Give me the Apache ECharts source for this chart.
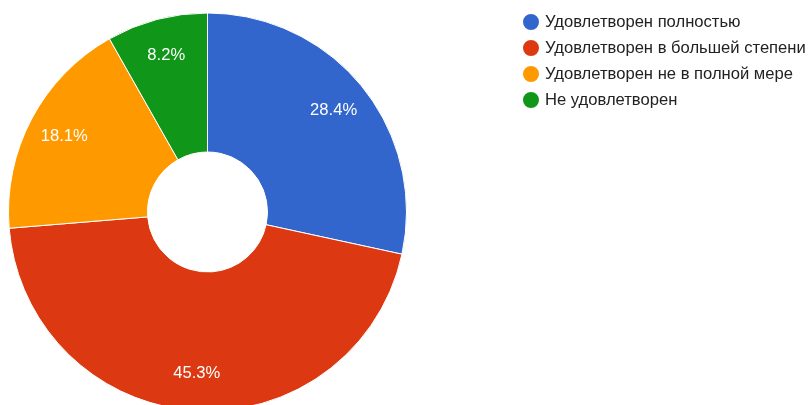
<!DOCTYPE html>
<html>
<head>
<meta charset="utf-8">
<script src="https://cdn.jsdelivr.net/npm/echarts@6/dist/echarts.min.js"></script>
<style>
  html, body { margin: 0; padding: 0; background: #fff; }
  #chart { width: 812px; height: 405px; }
</style>
</head>
<body>
<div id="chart"></div>
<script>
// answers and their share, percent
const categories = [
    'Удовлетворен полностью',
    'Удовлетворен в большей степени',
    'Удовлетворен не в полной мере',
    'Не удовлетворен'
];
const values = [28.4, 45.3, 18.1, 8.2];
const colors = ['#3366cc', '#dc3912', '#ff9900', '#109618'];

const pieData = categories.map((name, i) => ({ name: name, value: values[i] }));

const myChart = echarts.init(document.getElementById('chart'));

const option = {
    animation: false,
    color: colors,
    legend: {
        orient: 'vertical',
        left: 521,
        top: 12,
        padding: 0,
        icon: 'circle',
        itemWidth: 18,
        itemHeight: 18,
        itemGap: 6,
        textStyle: {
            fontFamily: 'Liberation Sans, Arial, sans-serif',
            fontSize: 16.6,
            lineHeight: 18,
            color: '#222'
        },
        data: categories
    },
    series: [
        {
            // the donut itself
            type: 'pie',
            center: [207.5, 212],
            radius: [60, 199],
            startAngle: 90,
            clockwise: true,
            label: { show: false },
            labelLine: { show: false },
            itemStyle: { borderColor: '#fff', borderWidth: 1 },
            emphasis: { disabled: true },
            data: pieData
        },
        {
            // invisible ring just for the percent labels, pushes them outward
            type: 'pie',
            center: [207.5, 212],
            radius: [119, 199],
            startAngle: 90,
            clockwise: true,
            silent: true,
            percentPrecision: 1,
            itemStyle: { color: 'rgba(0,0,0,0)', borderWidth: 0 },
            label: {
                show: true,
                position: 'inside',
                formatter: '{d}%',
                color: '#fff',
                fontFamily: 'Liberation Sans, Arial, sans-serif',
                fontSize: 16.6
            },
            labelLine: { show: false },
            emphasis: { disabled: true },
            data: pieData
        }
    ]
};

myChart.setOption(option);
window.addEventListener('resize', () => myChart.resize());
</script>
</body>
</html>
